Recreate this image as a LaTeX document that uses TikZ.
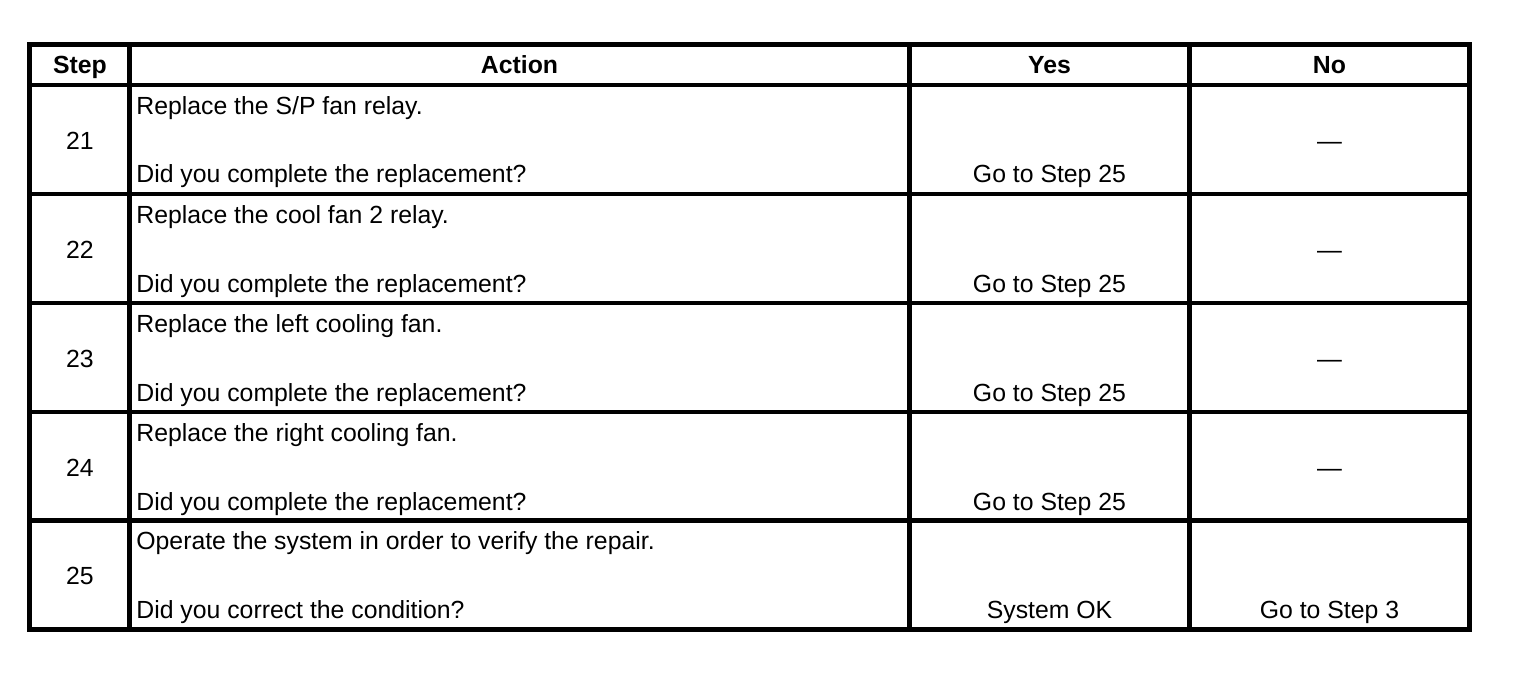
\documentclass[tikz,border=0pt]{standalone}
\usepackage{fontspec}
\setmainfont{Liberation Sans}
\begin{document}
\begin{tikzpicture}[x=0.5pt,y=-0.5pt,
  grid/.style={line width=2.25pt, line cap=rect},
  cell/.style={inner sep=0pt, font=\fontsize{12.4}{14}\selectfont},
  head/.style={cell, anchor=base, font=\fontsize{12.4}{14}\selectfont\bfseries},
  ctr/.style={cell, anchor=base},
  act/.style={cell, anchor=base west}]
\useasboundingbox (0,0) rectangle (1536,674);
\fill[white] (0,0) rectangle (1536,674);
% grid
\draw[grid] (29.5,44.5) rectangle (1469.5,629.5);
\foreach \x in {129.5,909.5,1189.5} \draw[grid] (\x,44.5) -- (\x,629.5);
\foreach \y in {85,194,303,412,520.5} \draw[grid] (29.5,\y) -- (1469.5,\y);
% header
\node[head] (hstep) at (80,74) {Step};
\node[head] (hact) at (519.5,74) {Action};
\node[head] (hyes) at (1049.5,74) {Yes};
\node[head] (hno) at (1329.5,74) {No};
% rows
\node[ctr] (s21) at (80,149) {21};
\node[act] (a21) at (136,114) {Replace the S/P fan relay.};
\node[act] (q21) at (136,183) {Did you complete the replacement?};
\node[ctr] (y21) at (1049.5,183) {Go to Step 25};
\node[ctr] (n21) at (1329.5,149) {—};

\node[ctr] (s22) at (80,258) {22};
\node[act] (a22) at (136,223) {Replace the cool fan 2 relay.};
\node[act] (q22) at (136,292) {Did you complete the replacement?};
\node[ctr] (y22) at (1049.5,292) {Go to Step 25};
\node[ctr] (n22) at (1329.5,258) {—};

\node[ctr] (s23) at (80,367) {23};
\node[act] (a23) at (136,332) {Replace the left cooling fan.};
\node[act] (q23) at (136,401) {Did you complete the replacement?};
\node[ctr] (y23) at (1049.5,401) {Go to Step 25};
\node[ctr] (n23) at (1329.5,367) {—};

\node[ctr] (s24) at (80,476) {24};
\node[act] (a24) at (136,441) {Replace the right cooling fan.};
\node[act] (q24) at (136,510) {Did you complete the replacement?};
\node[ctr] (y24) at (1049.5,510) {Go to Step 25};
\node[ctr] (n24) at (1329.5,476) {—};

\node[ctr] (s25) at (80,584.5) {25};
\node[act] (a25) at (136,549.5) {Operate the system in order to verify the repair.};
\node[act] (q25) at (136,618.5) {Did you correct the condition?};
\node[ctr] (y25) at (1049.5,618.5) {System OK};
\node[ctr] (n25) at (1329.5,618.5) {Go to Step 3};
\end{tikzpicture}
\end{document}
